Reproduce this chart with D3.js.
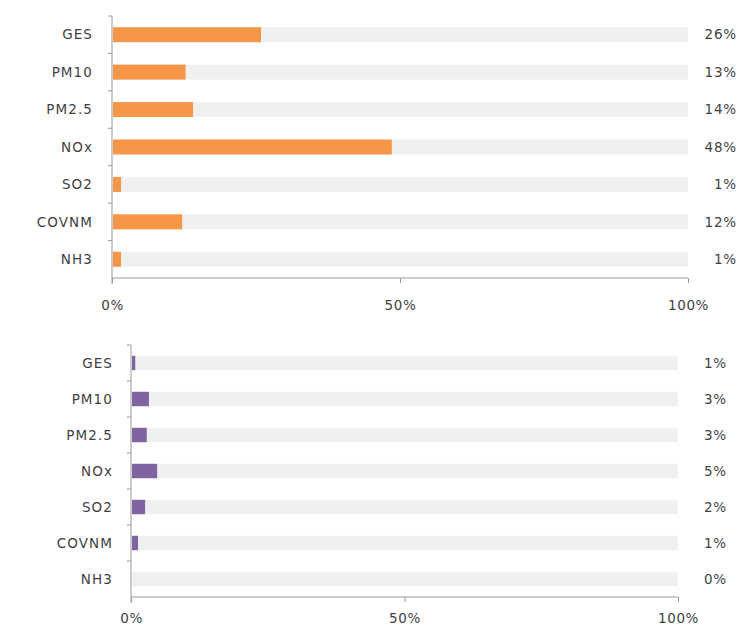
<!DOCTYPE html>
<html>
<head>
<meta charset="utf-8">
<script src="https://cdn.jsdelivr.net/npm/d3@7"></script>
<style>
  html, body { margin: 0; padding: 0; background: #ffffff; }
  svg { display: block; }
  text { font-family: "DejaVu Sans", sans-serif; }
</style>
</head>
<body>
<svg id="chart" width="738" height="630"></svg>
<script>
// ---- Data ----
const categories = ["GES", "PM10", "PM2.5", "NOx", "SO2", "COVNM", "NH3"];
const topValues = [25.7, 12.6, 13.9, 48.4, 1.4, 12.0, 1.4];      // percent
const bottomValues = [0.6, 3.1, 2.7, 4.6, 2.4, 1.1, 0.0];        // percent
const xTickValues = [0, 50, 100];
const xTickLabels = ["0%", "50%", "100%"];

const svg = d3.select("#chart");

function drawPanel(cfg) {
  const g = svg.append("g");
  const x = d3.scaleLinear().domain([0, 100]).range([cfg.x0, cfg.x1]);
  const y = d3.scaleBand().domain(categories).range([cfg.y0, cfg.y1]).paddingInner(0.6).paddingOuter(0.3);
  const step = y.step();

  // background track bars
  g.selectAll("rect.bg").data(categories).join("rect")
    .attr("class", "bg")
    .attr("x", x(0) + 1)
    .attr("y", d => y(d))
    .attr("width", x(100) - x(0) - 1)
    .attr("height", y.bandwidth())
    .attr("fill", "#f0f0f0");

  // value bars
  g.selectAll("rect.val").data(cfg.values).join("rect")
    .attr("class", "val")
    .attr("x", x(0) + 1)
    .attr("y", (d, i) => y(categories[i]))
    .attr("width", d => Math.max(0, x(d) - x(0)))
    .attr("height", y.bandwidth())
    .attr("fill", cfg.color);

  // y axis line with ticks at band boundaries
  g.append("line")
    .attr("x1", x(0)).attr("x2", x(0))
    .attr("y1", cfg.y0).attr("y2", cfg.y1 + 6)
    .attr("stroke", "#9a9a9a").attr("stroke-width", 1);
  const boundaries = d3.range(categories.length + 1).map(i => cfg.y0 + i * step);
  g.selectAll("line.ytick").data(boundaries.slice(0, -1)).join("line")
    .attr("class", "ytick")
    .attr("x1", x(0) - 4).attr("x2", x(0))
    .attr("y1", d => d).attr("y2", d => d)
    .attr("stroke", "#9a9a9a");

  // category labels
  g.selectAll("text.cat").data(categories).join("text")
    .attr("class", "cat")
    .attr("x", cfg.labelX)
    .attr("y", d => y(d) + y.bandwidth() / 2)
    .attr("dy", "0.35em")
    .attr("text-anchor", "end")
    .attr("font-size", 13.5)
    .attr("letter-spacing", 1.1)
    .attr("fill", "#3f3f3f")
    .text(d => d);

  // x axis
  const xAxis = d3.axisBottom(x)
    .tickValues(xTickValues)
    .tickFormat((d, i) => xTickLabels[i])
    .tickSize(5)
    .tickPadding(cfg.tickPad);
  const ax = g.append("g")
    .attr("transform", `translate(0,${cfg.y1})`)
    .call(xAxis);
  ax.select(".domain").attr("stroke", "#9a9a9a").attr("d", `M${x(0)},0H${x(100)}`);
  ax.selectAll(".tick line").attr("stroke", "#9a9a9a");
  ax.selectAll(".tick text")
    .attr("font-family", "DejaVu Sans, sans-serif")
    .attr("font-size", 13.5)
    .attr("letter-spacing", 0.6)
    .attr("fill", "#3f3f3f");

  // value labels at right
  g.selectAll("text.val").data(cfg.values).join("text")
    .attr("class", "val")
    .attr("x", cfg.valueX)
    .attr("y", (d, i) => y(categories[i]) + y.bandwidth() / 2)
    .attr("dy", "0.35em")
    .attr("text-anchor", "end")
    .attr("font-size", 13.5)
    .attr("letter-spacing", 0.8)
    .attr("fill", "#3f3f3f")
    .text(d => Math.round(d) + "%");
}

drawPanel({ values: topValues, color: "#f79646", x0: 112, x1: 688, y0: 16, y1: 278, labelX: 93, valueX: 737, tickPad: 17 });
drawPanel({ values: bottomValues, color: "#8064a2", x0: 131, x1: 678, y0: 345, y1: 597, labelX: 113, valueX: 727, tickPad: 11 });
</script>
</body>
</html>
